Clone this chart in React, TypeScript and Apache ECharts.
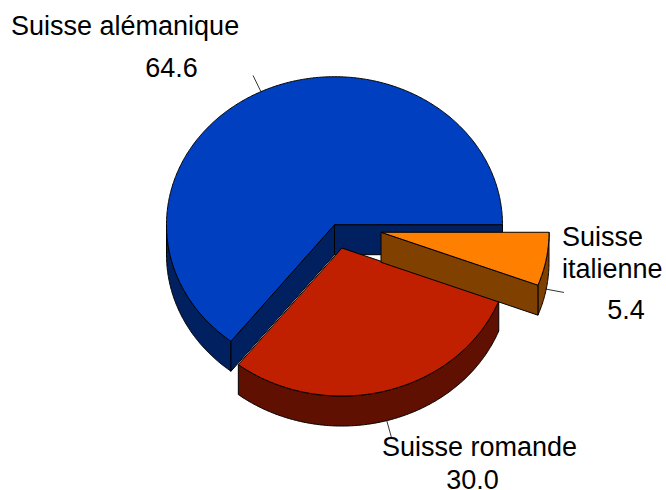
import React, { useEffect, useRef } from "react";
import * as echarts from "echarts";

const regions = ["Suisse alémanique", "Suisse romande", "Suisse italienne"];
const shares = [64.6, 30.0, 5.4];
const valueLabels = ["64.6", "30.0", "5.4"];

const topColors = ["#0040C0", "#C02000", "#FF8000"];
const sideColors = ["#002060", "#601000", "#804000"];
const explodeBy = [0, 27.5, 47.3];
// small drawing correction (degrees) of each slice's closing edge, as the source's 3D projection renders it
const edgeNudge = [-0.6, -1.5, 0];

const CX = 334.5, CY = 224.7, RX = 168, RY = 148, DEPTH = 30, LEADER = 18;
const FONT = '27px "Liberation Sans", Arial, sans-serif';

const labelItems = [
  { text: "Suisse alémanique", x: 11, y: 26, align: "left" },
  { text: valueLabels[0], x: 171.5, y: 67.5, align: "center" },
  { text: "Suisse romande", x: 479.5, y: 446.7, align: "center" },
  { text: valueLabels[1], x: 472.5, y: 479.7, align: "center" },
  { text: "Suisse", x: 562, y: 236.7, align: "left" },
  { text: "italienne", x: 562, y: 269.3, align: "left" },
  { text: valueLabels[2], x: 626, y: 310, align: "center" },
];

const total = shares.reduce((a, b) => a + b, 0);
const rad = (d: number) => (d * Math.PI) / 180;

function sliceAngles(i: number) {
  let sum = 0;
  for (let k = 0; k < i; k++) sum += shares[k];
  const edge = (s: number, k: number) => (s / total) * 360 + (k >= 0 ? edgeNudge[k] : 0);
  return [edge(sum, i - 1), edge(sum + shares[i], i)];
}

function arcPoints(cx: number, cy: number, a0: number, a1: number, dy = 0) {
  const pts: number[][] = [];
  const n = Math.max(2, Math.ceil(Math.abs(a1 - a0) * 2));
  for (let j = 0; j <= n; j++) {
    const a = rad(a0 + ((a1 - a0) * j) / n);
    pts.push([cx + RX * Math.cos(a), cy - RY * Math.sin(a) + dy]);
  }
  return pts;
}

function renderSlice(_: any, api: any) {
  const i = api.value(0) as number;
  const [a0, a1] = sliceAngles(i);
  const mid = (a0 + a1) / 2;
  const cx = CX + explodeBy[i] * Math.cos(rad(mid));
  const cy = CY - (explodeBy[i] * Math.sin(rad(mid)) * RY) / RX;
  const side = { fill: sideColors[i], stroke: "#000", lineWidth: 1, lineJoin: "round" };
  const top = { fill: topColors[i], stroke: "#000", lineWidth: 1, lineJoin: "round" };
  const children: any[] = [];
  const poly = (points: number[][], style: any) =>
    children.push({ type: "polygon", shape: { points }, style });

  // cut faces that look towards the viewer
  const cutWall = (a: number) => {
    const e = [cx + RX * Math.cos(rad(a)), cy - RY * Math.sin(rad(a))];
    poly([[cx, cy], e, [e[0], e[1] + DEPTH], [cx, cy + DEPTH]], side);
  };
  if (i === 0) cutWall(0);
  // outer wall: only the front half of the rim is visible
  const f0 = Math.max(a0, 180), f1 = Math.min(a1, 360);
  if (f1 > f0) {
    poly([...arcPoints(cx, cy, f0, f1), ...arcPoints(cx, cy, f1, f0, DEPTH)], side);
  }
  if (i === 0) cutWall(a1);
  if (i === 2) cutWall(a0);
  poly([[cx, cy], ...arcPoints(cx, cy, a0, a1)], top);

  // leader line, from the rim's middle outward
  const wall = mid > 180 ? DEPTH : 0;
  const sx = cx + RX * Math.cos(rad(mid));
  const sy = cy - RY * Math.sin(rad(mid)) + wall;
  children.push({
    type: "line",
    shape: { x1: sx, y1: sy, x2: sx + LEADER * Math.cos(rad(mid)), y2: sy - LEADER * Math.sin(rad(mid)) },
    style: { stroke: "#000", lineWidth: 0.8 },
  });
  return { type: "group", children };
}

export default function App() {
  const ref = useRef<HTMLDivElement>(null);
  useEffect(() => {
    document.body.style.margin = "0";
    const chart = echarts.init(ref.current!, undefined, { renderer: "svg" });
    chart.setOption({
      animation: false,
      backgroundColor: "#fff",
      tooltip: { show: false },
      series: [
        {
          type: "custom",
          coordinateSystem: "none",
          renderItem: renderSlice,
          data: shares.map((v, i) => ({ name: regions[i], value: [i, v] })),
          silent: true,
        },
      ],
      graphic: labelItems.map((l) => ({
        type: "text",
        x: l.x,
        y: l.y,
        silent: true,
        z: 10,
        style: { text: l.text, font: FONT, fill: "#000", align: l.align, verticalAlign: "middle" },
      })),
    });
    return () => chart.dispose();
  }, []);
  return <div ref={ref} style={{ width: 666, height: 490 }} />;
}
